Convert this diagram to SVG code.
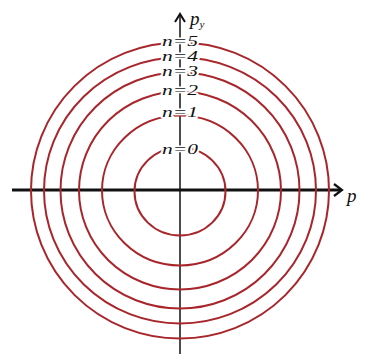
<svg xmlns="http://www.w3.org/2000/svg" width="366" height="354" viewBox="0 0 366 354">
<style>
.c{fill:none;stroke:#a8262b;stroke-width:2}
.lb{font-family:"Liberation Serif","Times New Roman",serif;font-style:italic;font-size:14.5px;fill:#111;text-anchor:middle;stroke:#fff;stroke-width:3;paint-order:stroke;stroke-linejoin:round}
.ax{font-family:"Liberation Serif","Times New Roman",serif;font-style:italic;fill:#111}
</style>
<rect width="366" height="354" fill="#fff"/>
<g id="axes">
<line x1="180" y1="16" x2="180" y2="354" stroke="#111" stroke-width="1.5"/>
<path d="M175,22 L180,14 L185,22" fill="none" stroke="#111" stroke-width="2"/>
<line x1="12" y1="190" x2="341" y2="190" stroke="#111" stroke-width="3"/>
<path d="M334,184 L342,190 L334,196" fill="none" stroke="#111" stroke-width="2.2"/>
</g>
<g id="circles">
<ellipse class="c" cx="180" cy="190.5" rx="149" ry="148"/>
<ellipse class="c" cx="180" cy="190.5" rx="136" ry="133"/>
<ellipse class="c" cx="180" cy="190.5" rx="119.5" ry="118"/>
<ellipse class="c" cx="180" cy="190.5" rx="101" ry="99"/>
<ellipse class="c" cx="180" cy="190.5" rx="78" ry="75"/>
<ellipse class="c" cx="180" cy="191.5" rx="45.5" ry="44"/>
</g>
<g id="labels">
<text class="lb" x="180" y="46" textLength="36" lengthAdjust="spacingAndGlyphs">n=5</text>
<text class="lb" x="180" y="61" textLength="36" lengthAdjust="spacingAndGlyphs">n=4</text>
<text class="lb" x="180" y="76" textLength="36" lengthAdjust="spacingAndGlyphs">n=3</text>
<text class="lb" x="180" y="95" textLength="36" lengthAdjust="spacingAndGlyphs">n=2</text>
<text class="lb" x="180" y="117" textLength="36" lengthAdjust="spacingAndGlyphs">n=1</text>
<text class="lb" x="180" y="154" textLength="36" lengthAdjust="spacingAndGlyphs">n=0</text>
<text class="ax" x="190" y="25" font-size="19">p<tspan font-size="11" dy="3">y</tspan></text>
<text class="ax" x="347" y="202" font-size="19">p</text>
</g>
</svg>
